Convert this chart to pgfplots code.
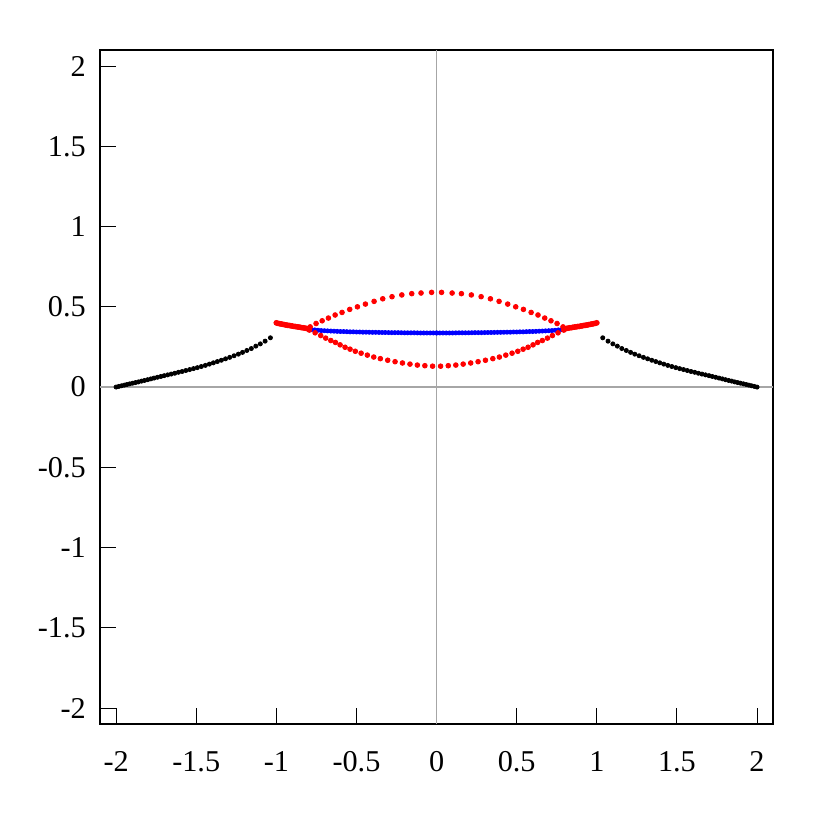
\documentclass[border=0pt]{standalone}
\usepackage{fontspec}
\setmainfont{Liberation Serif}
\usepackage{pgfplots}
\usepackage{pgfplotstable}
\pgfplotsset{compat=1.18}
% half-curves (x >= 0), mirrored to x < 0
\pgfplotstableread{
x y
1.037 0.307
1.070 0.286
1.100 0.269
1.128 0.255
1.156 0.240
1.184 0.228
1.211 0.216
1.237 0.205
1.264 0.195
1.291 0.185
1.317 0.176
1.343 0.167
1.368 0.159
1.393 0.151
1.418 0.143
1.443 0.135
1.468 0.128
1.493 0.121
1.517 0.115
1.541 0.109
1.565 0.103
1.588 0.097
1.611 0.092
1.634 0.086
1.656 0.081
1.678 0.076
1.700 0.071
1.721 0.066
1.742 0.061
1.763 0.056
1.783 0.051
1.803 0.046
1.823 0.041
1.842 0.037
1.861 0.032
1.879 0.028
1.897 0.024
1.915 0.020
1.932 0.016
1.949 0.012
1.966 0.008
1.983 0.004
2.000 0.000
}\blackdata
\pgfplotstableread{
x y
0.80 0.363
0.81 0.365
0.82 0.367
0.83 0.369
0.84 0.370
0.85 0.372
0.86 0.374
0.87 0.375
0.88 0.377
0.89 0.378
0.90 0.380
0.91 0.382
0.92 0.384
0.93 0.385
0.94 0.387
0.95 0.389
0.96 0.391
0.97 0.393
0.98 0.395
0.99 0.397
1.00 0.400
}\redthickdata
\pgfplotstableread{
x y
0.789 0.375
0.752 0.396
0.714 0.413
0.675 0.430
0.633 0.449
0.590 0.465
0.542 0.484
0.494 0.500
0.444 0.517
0.390 0.534
0.336 0.550
0.278 0.563
0.217 0.574
0.155 0.582
0.097 0.586
0.031 0.590
}\upperarcdata
\pgfplotstableread{
x y
0.794 0.355
0.758 0.338
0.723 0.321
0.692 0.305
0.660 0.290
0.631 0.278
0.602 0.263
0.571 0.248
0.540 0.236
0.507 0.223
0.471 0.211
0.432 0.199
0.392 0.187
0.351 0.177
0.305 0.167
0.259 0.158
0.213 0.150
0.166 0.143
0.120 0.137
0.073 0.133
0.025 0.130
}\lowerarcdata
\pgfplotstableread{
x y
0.00 0.337
0.02 0.337
0.04 0.337
0.06 0.337
0.08 0.337
0.10 0.337
0.12 0.3375
0.14 0.338
0.16 0.338
0.18 0.338
0.20 0.338
0.22 0.3385
0.24 0.339
0.26 0.339
0.28 0.339
0.30 0.3395
0.32 0.340
0.34 0.340
0.36 0.3405
0.38 0.341
0.40 0.341
0.42 0.3415
0.44 0.342
0.46 0.342
0.48 0.343
0.50 0.343
0.52 0.344
0.54 0.344
0.56 0.345
0.58 0.346
0.60 0.346
0.62 0.347
0.64 0.348
0.66 0.349
0.68 0.350
0.70 0.351
0.72 0.352
0.74 0.354
0.76 0.356
0.78 0.358
0.80 0.361
}\bluedata
\begin{document}
\begin{tikzpicture}
\begin{axis}[
  scale only axis,
  width=329.5pt, height=330pt,
  xmin=-2.1, xmax=2.1, ymin=-2.1, ymax=2.1,
  xtick={-2,-1.5,-1,-0.5,0,0.5,1,1.5,2},
  ytick={-2,-1.5,-1,-0.5,0,0.5,1,1.5,2},
  xticklabels={-2,-1.5,-1,-0.5,0,0.5,1,1.5,2},
  yticklabels={-2,-1.5,-1,-0.5,0,0.5,1,1.5,2},
  tick align=inside,
  tick pos=left,
  major tick length=7.8pt,
  tick style={black, line width=0.5pt},
  axis line style={black, line width=0.6pt},
  tick label style={font=\fontsize{14.8}{17}\selectfont},
  xticklabel style={yshift=-10pt},
  yticklabel style={xshift=-3.5pt},
  extra x ticks={0}, extra y ticks={0},
  extra x tick labels={}, extra y tick labels={},
  extra tick style={grid=major, major tick length=0pt,
    major grid style={color=black!35, line width=0.7pt}},
  clip=false,
]
\addplot[only marks, mark=*, mark size=1.0pt, black] table[x expr=\thisrow{x}, y=y] {\blackdata};
\addplot[only marks, mark=*, mark size=1.0pt, black] table[x expr=-\thisrow{x}, y=y] {\blackdata};
\addplot[only marks, mark=*, mark size=1.0pt, blue, mark options={draw=blue, fill=blue}] table[x expr=\thisrow{x}, y=y] {\bluedata};
\addplot[only marks, mark=*, mark size=1.0pt, blue, mark options={draw=blue, fill=blue}] table[x expr=-\thisrow{x}, y=y] {\bluedata};
\addplot[only marks, mark=*, mark size=1.15pt, red, mark options={draw=red, fill=red}] table[x expr=\thisrow{x}, y=y] {\upperarcdata};
\addplot[only marks, mark=*, mark size=1.15pt, red, mark options={draw=red, fill=red}] table[x expr=-\thisrow{x}, y=y] {\upperarcdata};
\addplot[only marks, mark=*, mark size=1.15pt, red, mark options={draw=red, fill=red}] table[x expr=\thisrow{x}, y=y] {\lowerarcdata};
\addplot[only marks, mark=*, mark size=1.15pt, red, mark options={draw=red, fill=red}] table[x expr=-\thisrow{x}, y=y] {\lowerarcdata};
\addplot[only marks, mark=*, mark size=1.2pt, red, mark options={draw=red, fill=red}] table[x expr=\thisrow{x}, y=y] {\redthickdata};
\addplot[only marks, mark=*, mark size=1.2pt, red, mark options={draw=red, fill=red}] table[x expr=-\thisrow{x}, y=y] {\redthickdata};
\end{axis}
\path (current axis.south west) ++(-49pt,-45.5pt) rectangle ++(400pt,400pt);
\end{tikzpicture}
\end{document}
